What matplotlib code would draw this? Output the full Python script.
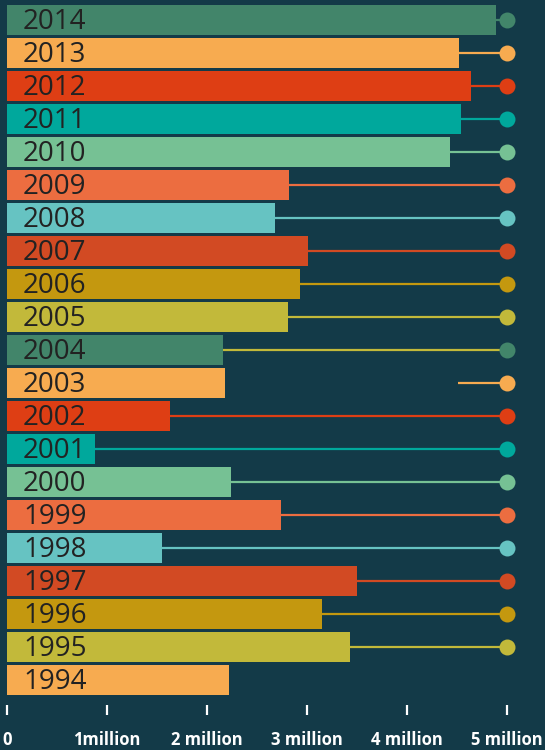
import numpy as np
import matplotlib.pyplot as plt

# values in millions (top to bottom)
years = ['2014', '2013', '2012', '2011', '2010', '2009', '2008', '2007', '2006', '2005',
         '2004', '2003', '2002', '2001', '2000', '1999', '1998', '1997', '1996', '1995', '1994']
values = [4.89, 4.52, 4.64, 4.54, 4.43, 2.82, 2.68, 3.01, 2.93, 2.81,
          2.16, 2.18, 1.63, 0.88, 2.24, 2.74, 1.55, 3.50, 3.15, 3.43, 2.22]
# where each connector line starts (None = no line / no dot)
line_from = [4.89, 4.52, 4.64, 4.54, 4.43, 2.82, 2.68, 3.01, 2.93, 2.81,
             2.16, 4.51, 1.63, 0.88, 2.24, 2.74, 1.55, 3.50, 3.15, 3.43, None]
dot_at = 5.0

green, orange, red, teal, lgreen = '#42856a', '#f7ab50', '#de3e14', '#00a89c', '#76c194'
coral, lteal, rust, gold, olive = '#ec6d40', '#66c3c2', '#d24a23', '#c4980f', '#c2b93a'
bar_colors = [green, orange, red, teal, lgreen, coral, lteal, rust, gold, olive,
              green, orange, red, teal, lgreen, coral, lteal, rust, gold, olive, orange]
line_colors = bar_colors[:10] + [olive] + bar_colors[11:]

tick_vals = [0, 1, 2, 3, 4, 5]
tick_labels = ['0', '1million', '2 million', '3 million', '4 million', '5 million']

bg = '#133a48'
fig = plt.figure(figsize=(5.45, 7.5), dpi=100, facecolor=bg)
ax = fig.add_axes([0, 0.06, 1, 0.94])
ax.set_facecolor(bg)

ys = np.arange(len(years))
ax.barh(ys, values, height=0.9, color=bar_colors, zorder=2)

for y, x0, c in zip(ys, line_from, line_colors):
    if x0 is None:
        continue
    ax.plot([x0, dot_at], [y, y], color=c, lw=1.6, zorder=1,
            solid_capstyle='butt')
for y, x0, c in zip(ys, line_from, bar_colors):
    if x0 is None:
        continue
    ax.plot(dot_at, y, 'o', ms=11.5, color=c, mec='none', zorder=3)

for y, yr in zip(ys, years):
    ax.text(0.16, y + 0.06, yr, va='center', ha='left', fontsize=20,
            family='Open Sans', color='#222222', zorder=4)

ax.set_xlim(-0.07, 5.38)
ax.set_ylim(20.76, -0.606)

ax.set_xticks(tick_vals)
ax.set_xticklabels(tick_labels, color='white', fontsize=12,
                   fontweight='bold', family='Open Sans')
ax.tick_params(axis='x', length=7.5, width=1.6, color='white', pad=11,
               direction='out')
ax.set_yticks([])
for s in ax.spines.values():
    s.set_visible(False)

fig.savefig('out.png', dpi=100, facecolor=bg)
